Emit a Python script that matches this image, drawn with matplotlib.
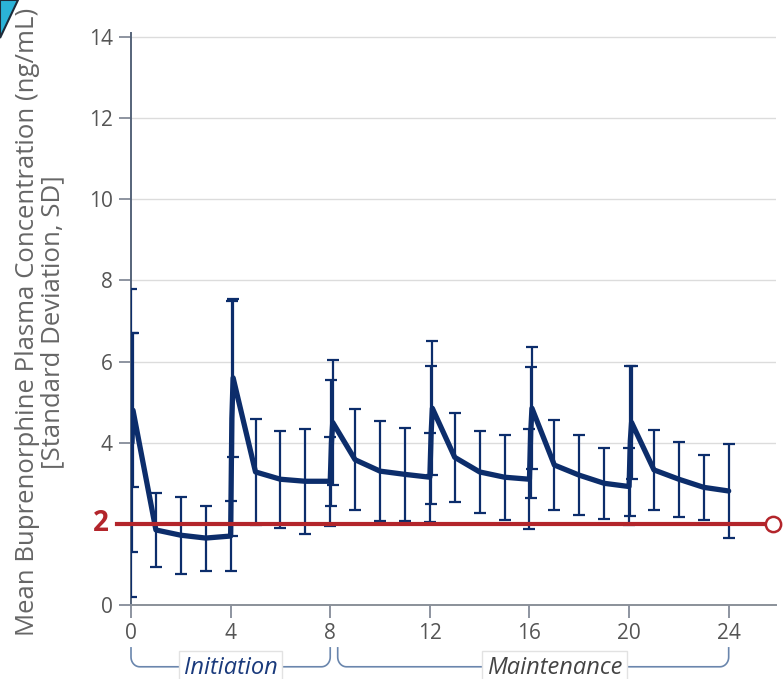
import numpy as np
import matplotlib
matplotlib.use("Agg")
import matplotlib.pyplot as plt
from matplotlib.transforms import blended_transform_factory
from matplotlib.patches import Polygon

plt.rcParams['font.family'] = ['Open Sans', 'DejaVu Sans']

# weeks since first dose (clusters at each injection week)
weeks = [0.0, 0.04, 0.08, 1, 2, 3,
         4.0, 4.05, 4.1, 5, 6, 7,
         8.0, 8.05, 8.1, 9, 10, 11,
         12.0, 12.05, 12.1, 13, 14, 15,
         16.0, 16.05, 16.1, 17, 18, 19,
         20.0, 20.05, 20.1, 21, 22, 23, 24]
means = [4.0, 4.0, 4.8, 1.85, 1.72, 1.65,
         1.7, 4.6, 5.6, 3.28, 3.1, 3.05,
         3.05, 4.0, 4.5, 3.58, 3.3, 3.22,
         3.15, 4.2, 4.85, 3.64, 3.28, 3.15,
         3.1, 4.25, 4.85, 3.45, 3.2, 3.0,
         2.92, 4.05, 4.5, 3.33, 3.1, 2.9, 2.81]
sds = [3.8, 2.7, 1.9, 0.92, 0.95, 0.8,
       0.87, 2.9, 1.95, 1.3, 1.2, 1.3,
       1.1, 1.55, 1.55, 1.25, 1.23, 1.15,
       1.1, 1.7, 1.65, 1.1, 1.0, 1.05,
       1.23, 1.62, 1.5, 1.12, 0.98, 0.88,
       0.95, 1.85, 1.4, 0.98, 0.92, 0.8, 1.16]

threshold = 2
xticks = [0, 4, 8, 12, 16, 20, 24]
yticks = [0, 2, 4, 6, 8, 10, 12, 14]
phases = [("Initiation", 0, 8), ("Maintenance", 8.3, 24)]

NAVY = "#0c2d6b"
RED = "#b3252b"

fig = plt.figure(figsize=(7.83, 6.79), dpi=100)
ax = fig.add_axes([131/783, 1-605/679, 645/783, 572/679])
ax.set_xlim(0, 25.9)
ax.set_ylim(0, 14.1)

for y in yticks[2:]:
    ax.axhline(y, color="#dcdcdc", lw=1, zorder=0)

ax.errorbar(weeks, means, yerr=sds, fmt="none", ecolor=NAVY,
            elinewidth=1.6, capsize=4.5, capthick=1.6, zorder=3)
ax.plot(weeks, means, color=NAVY, lw=3.8, solid_joinstyle="round",
        solid_capstyle="round", zorder=4)

# 2 ng/mL reference line
ax.plot([-0.56, 25.78], [threshold, threshold], color=RED, lw=3,
        marker="o", markevery=[1], markersize=11, markerfacecolor="white",
        markeredgecolor=RED, markeredgewidth=1.8, clip_on=False, zorder=5)

ax.set_xticks(xticks)
ax.set_yticks(yticks)
ax.set_yticklabels(["" if t == threshold else str(t) for t in yticks])
ax.tick_params(axis="both", labelsize=15, labelcolor="#555555", color="#7a8290",
               length=9, width=1.2, pad=4)
for s in ["top", "right"]:
    ax.spines[s].set_visible(False)
ax.spines["left"].set_color("#56647a")
ax.spines["left"].set_linewidth(1.4)
ax.spines["bottom"].set_color("#8a9099")
ax.spines["bottom"].set_linewidth(1.4)

trans = blended_transform_factory(ax.transAxes, ax.transData)
ax.text(-0.034, threshold, str(threshold), transform=trans, ha="right", va="center",
        color=RED, fontsize=20, fontweight="bold")

fig.text(40/783, 1-322/679,
         "Mean Buprenorphine Plasma Concentration (ng/mL)\n[Standard Deviation, SD]",
         rotation=90, ha="center", va="center", multialignment="center",
         fontsize=18.5, color="#666666", linespacing=1.0)

# phase brackets below the x axis
bt = blended_transform_factory(ax.transData, ax.transAxes)
y_top, y_bot = -0.075, -0.108
rx, ry = 0.35, 0.017
ang = np.linspace(0, np.pi/2, 12)
for label, x0, x1 in phases:
    xs = ([x0] + list(x0 + rx - rx*np.cos(ang)) +
          list(x1 - rx + rx*np.sin(ang)) + [x1])
    ys = ([y_top] + list(y_bot + ry - ry*np.sin(ang)) +
          list(y_bot + ry*(1 - np.cos(ang))) + [y_top])
    ax.plot(xs, ys, color="#6a86ad", lw=1.2, transform=bt, clip_on=False)

ax.text(4, -0.11, "Initiation", transform=bt, ha="center", va="center",
        fontsize=17, style="italic", color="#1a3a7c",
        bbox=dict(boxstyle="square,pad=0.2", fc="white", ec="#e2e2e2", lw=1))
ax.text(17, -0.11, "Maintenance", transform=bt, ha="center", va="center",
        fontsize=17, style="italic", color="#444444",
        bbox=dict(boxstyle="square,pad=0.2", fc="white", ec="#e2e2e2", lw=1))

# cut-off corner icon
fig.patches.append(Polygon([[0, 1], [18/783, 1], [0, 1-38/679]], closed=True,
                           transform=fig.transFigure, fc="#2bb3d8", ec="#1d2b3a",
                           lw=1.5))

fig.savefig("out.png", dpi=100)
